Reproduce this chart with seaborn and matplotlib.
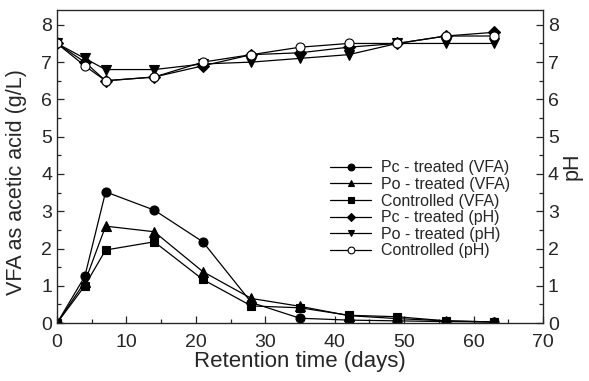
import matplotlib
import matplotlib.pyplot as plt
import seaborn as sns
from matplotlib.ticker import MultipleLocator

matplotlib.use("Agg")

days = [0, 4, 7, 14, 21, 28, 35, 42, 49, 56, 63]

vfa_pc = [0, 1.25, 3.52, 3.03, 2.18, 0.55, 0.13, 0.08, 0.06, 0.04, 0.03]
vfa_po = [0, 1.1, 2.6, 2.45, 1.38, 0.66, 0.45, 0.2, 0.12, 0.06, 0.03]
vfa_ctrl = [0, 1.0, 1.96, 2.18, 1.17, 0.46, 0.41, 0.21, 0.17, 0.06, 0.03]

ph_pc = [7.5, 7.0, 6.5, 6.6, 6.9, 7.2, 7.25, 7.4, 7.5, 7.7, 7.8]
ph_po = [7.5, 7.1, 6.8, 6.8, 6.95, 7.0, 7.1, 7.2, 7.5, 7.5, 7.5]
ph_ctrl = [7.5, 6.9, 6.5, 6.6, 7.0, 7.2, 7.4, 7.5, 7.5, 7.7, 7.7]

sns.set_style("ticks")
plt.rcParams["font.family"] = ["Liberation Sans", "DejaVu Sans"]

fig = plt.figure(figsize=(5.89, 3.81), dpi=100)
ax = fig.add_axes([0.0968, 0.152, 0.8252, 0.822])

series = [
    (vfa_pc, "o", "black", "Pc - treated (VFA)", 6.5),
    (vfa_po, "^", "black", "Po - treated (VFA)", 6.5),
    (vfa_ctrl, "s", "black", "Controlled (VFA)", 6),
    (ph_pc, "D", "black", "Pc - treated (pH)", 6),
    (ph_po, "v", "black", "Po - treated (pH)", 6.5),
    (ph_ctrl, "o", "white", "Controlled (pH)", 6.5),
]
for vals, m, fc, lab, ms in series:
    sns.lineplot(
        x=days,
        y=vals,
        ax=ax,
        color="black",
        linewidth=0.9,
        marker=m,
        markersize=ms,
        markerfacecolor=fc,
        markeredgecolor="black",
        markeredgewidth=0.8,
        label=lab,
    )

ax.set_xlim(0, 70)
ax.set_ylim(0, 8.4)
ax.xaxis.set_major_locator(MultipleLocator(10))
ax.xaxis.set_minor_locator(MultipleLocator(5))
ax.yaxis.set_major_locator(MultipleLocator(1))
ax.yaxis.set_minor_locator(MultipleLocator(0.5))
ax.tick_params(which="both", direction="in", labelsize=14, width=0.9)
ax.tick_params(which="major", length=5)
ax.tick_params(which="minor", length=3)
ax.tick_params(axis="x", pad=8)
ax.set_xlabel("Retention time (days)", fontsize=16, labelpad=0)
ax.set_ylabel("VFA as acetic acid (g/L)", fontsize=15.5)
ax.yaxis.set_label_coords(-0.062, 0.45)
for s in ax.spines.values():
    s.set_linewidth(0.9)

ax2 = ax.twinx()
ax2.set_ylim(0, 8.4)
ax2.yaxis.set_major_locator(MultipleLocator(1))
ax2.yaxis.set_minor_locator(MultipleLocator(0.5))
ax2.tick_params(which="both", direction="in", labelsize=14, width=0.9)
ax2.tick_params(which="major", length=5)
ax2.tick_params(which="minor", length=3)
ax2.set_ylabel("pH", fontsize=15.5, rotation=90, labelpad=2)

ax.legend(
    loc="upper left",
    bbox_to_anchor=(0.545, 0.545),
    frameon=False,
    fontsize=11.5,
    markerscale=0.75,
    handlelength=2.6,
    handletextpad=0.6,
    labelspacing=0.1,
    borderpad=0,
)

fig.savefig("out.png", dpi=100)
